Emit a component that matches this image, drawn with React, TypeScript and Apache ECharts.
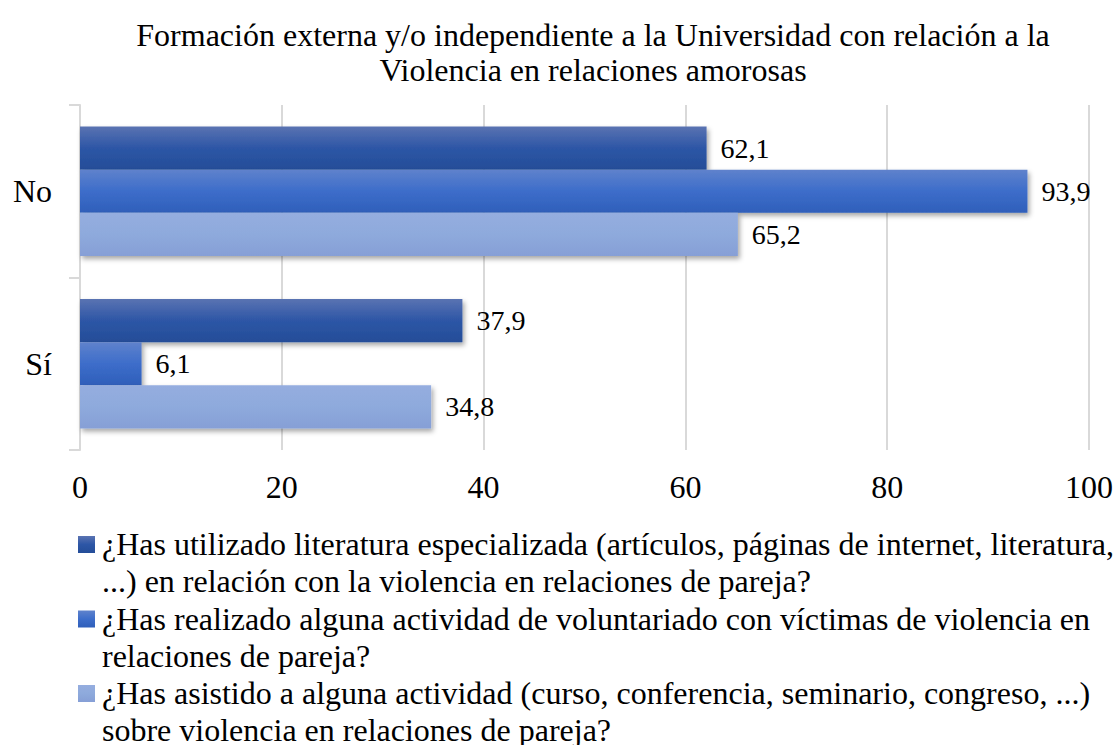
import React, { useEffect, useRef } from "react";
import * as echarts from "echarts";

const categories = ["No", "Sí"];
const seriesNames = [
  "¿Has utilizado literatura especializada (artículos, páginas de internet, literatura,\n...) en relación con la violencia en relaciones de pareja?",
  "¿Has realizado alguna actividad de voluntariado con víctimas de violencia en\nrelaciones de pareja?",
  "¿Has asistido a alguna actividad (curso, conferencia, seminario, congreso, ...)\nsobre violencia en relaciones de pareja?",
];
const literatura = [62.1, 37.9];
const voluntariado = [93.9, 6.1];
const actividad = [65.2, 34.8];
const xTicks = [0, 20, 40, 60, 80, 100];

const FONT = "Liberation Serif";

const grads = [
  ["#5a73b2", "#2d56a6", "#244d98"],
  ["#5f82cc", "#3d6dca", "#2f5fba"],
  ["#95addf", "#8eaadc", "#869fd6"],
];

function grad(c: string[]) {
  return new echarts.graphic.LinearGradient(0, 0, 0, 1, [
    { offset: 0, color: c[0] },
    { offset: 0.5, color: c[1] },
    { offset: 1, color: c[2] },
  ]);
}

export default function App() {
  const ref = useRef<HTMLDivElement>(null);
  useEffect(() => {
    document.body.style.margin = "0";
    const chart = echarts.init(ref.current!, null, { renderer: "svg" });
    const dataSets = [literatura, voluntariado, actividad];
    const legendTop = [536, 610.5, 685];
    chart.setOption({
      animation: false,
      backgroundColor: "#ffffff",
      textStyle: { fontFamily: FONT },
      title: {
        text: "Formación externa y/o independiente a la Universidad con relación a la\nViolencia en relaciones amorosas",
        left: 588,
        textAlign: "center",
        top: 12,
        textStyle: {
          fontFamily: FONT,
          fontSize: 32,
          fontWeight: "normal",
          color: "#000",
          lineHeight: 35,
        },
      },
      grid: { left: 80, right: 26, top: 105, bottom: 295, containLabel: false },
      xAxis: {
        type: "value",
        min: 0,
        max: 100,
        interval: 20,
        axisLine: { show: false },
        axisTick: { show: false },
        splitLine: { show: true, lineStyle: { color: "#d9d9d9", width: 2 } },
        axisLabel: {
          fontFamily: FONT,
          fontSize: 32,
          color: "#000",
          margin: 21,
          formatter: (v: number) => (xTicks.includes(v) ? String(v) : ""),
        },
      },
      yAxis: {
        type: "category",
        data: categories,
        inverse: true,
        axisLine: { show: true, lineStyle: { color: "#d9d9d9", width: 2 } },
        axisTick: { show: true, length: 11, lineStyle: { color: "#d9d9d9", width: 2 } },
        axisLabel: {
          fontFamily: FONT,
          fontSize: 32,
          color: "#000",
          margin: 28,
        },
      },
      series: dataSets.map((d, i) => ({
        type: "bar",
        name: seriesNames[i],
        data: d,
        barGap: "0%",
        barCategoryGap: "25%",
        itemStyle: {
          color: grad(grads[i]),
          shadowColor: "rgba(0,0,0,0.35)",
          shadowBlur: 5,
          shadowOffsetX: 2,
          shadowOffsetY: 3,
        },
        label: {
          show: true,
          position: "right",
          distance: 14,
          fontFamily: FONT,
          fontSize: 28,
          color: "#000",
          formatter: (p: any) => String(p.value).replace(".", ","),
        },
      })),
      graphic: seriesNames.flatMap((n, i) => [
        {
          type: "rect",
          left: 78,
          top: legendTop[i],
          shape: { width: 17, height: 17 },
          style: { fill: grad(grads[i]) },
        },
        {
          type: "text",
          left: 102,
          top: legendTop[i] - 10.5,
          style: {
            text: n,
            fontFamily: FONT,
            fontSize: 32,
            lineHeight: 37,
            fill: "#000",
          },
        },
      ]),
    });
    return () => chart.dispose();
  }, []);
  return <div ref={ref} style={{ width: 1116, height: 745 }} />;
}
